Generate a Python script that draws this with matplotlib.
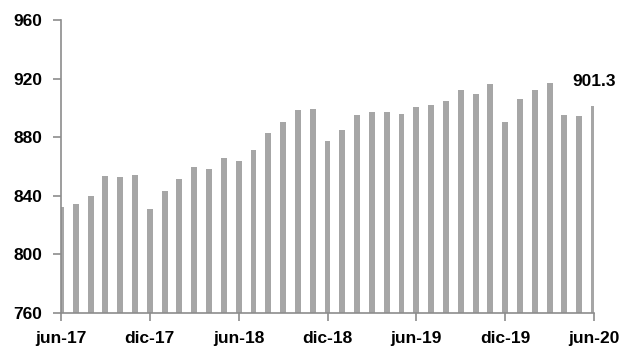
import matplotlib
matplotlib.use("Agg")
import matplotlib.pyplot as plt
from matplotlib import font_manager

# Monthly series, jun-17 .. jun-20
months = ["jun-17", "jul-17", "ago-17", "sep-17", "oct-17", "nov-17", "dic-17",
          "ene-18", "feb-18", "mar-18", "abr-18", "may-18", "jun-18", "jul-18",
          "ago-18", "sep-18", "oct-18", "nov-18", "dic-18", "ene-19", "feb-19",
          "mar-19", "abr-19", "may-19", "jun-19", "jul-19", "ago-19", "sep-19",
          "oct-19", "nov-19", "dic-19", "ene-20", "feb-20", "mar-20", "abr-20",
          "may-20", "jun-20"]
values = [832.6, 834.6, 840.1, 853.7, 853.0, 854.4, 831.0, 843.5, 851.5, 859.9,
          858.5, 865.8, 863.8, 871.0, 883.1, 890.6, 898.4, 899.0, 877.4, 885.1,
          895.2, 897.4, 897.4, 895.8, 900.4, 902.0, 904.5, 912.2, 909.5, 916.3,
          890.2, 906.3, 912.0, 916.8, 895.2, 894.5, 901.3]
tick_labels = ["jun-17", "dic-17", "jun-18", "dic-18", "jun-19", "dic-19", "jun-20"]
y_ticks = [760, 800, 840, 880, 920, 960]

names = {f.name for f in font_manager.fontManager.ttflist}
family = "Liberation Sans Narrow" if "Liberation Sans Narrow" in names else "Liberation Sans"
plt.rcParams["font.family"] = [family, "DejaVu Sans"]
fsize = 12.5 if family == "Liberation Sans" else 14

fig = plt.figure(figsize=(6.2, 3.52), dpi=100)
ax = fig.add_axes([61 / 620, 1 - 313 / 352, (594 - 61) / 620, (313 - 20) / 352])

x = list(range(len(values)))
ax.bar(x, values, width=0.4, color="#A6A6A6")
ax.set_xlim(0, len(values) - 1)
ax.set_ylim(760, 960)

axis_color = "#8C8C8C"
for side in ("top", "right"):
    ax.spines[side].set_visible(False)
for side in ("left", "bottom"):
    ax.spines[side].set_color(axis_color)
    ax.spines[side].set_linewidth(1.2)

ax.set_yticks(y_ticks)
ax.set_yticklabels([str(v) for v in y_ticks])
tick_pos = [months.index(m) for m in tick_labels]
ax.set_xticks(tick_pos)
ax.set_xticklabels(tick_labels)
ax.tick_params(axis="both", colors=axis_color, length=5.5, width=1.2,
               labelcolor="black", labelsize=fsize)
ax.tick_params(axis="x", pad=7.5)
ax.tick_params(axis="y", pad=8)
for lab in ax.get_xticklabels() + ax.get_yticklabels():
    lab.set_fontweight("bold")

ax.annotate(f"{values[-1]:.1f}", xy=(x[-1], values[-1]), xytext=(0, 12),
            textcoords="offset points", ha="center", va="bottom",
            fontsize=fsize, fontweight="bold", annotation_clip=False)

fig.savefig("out.png", dpi=100)
